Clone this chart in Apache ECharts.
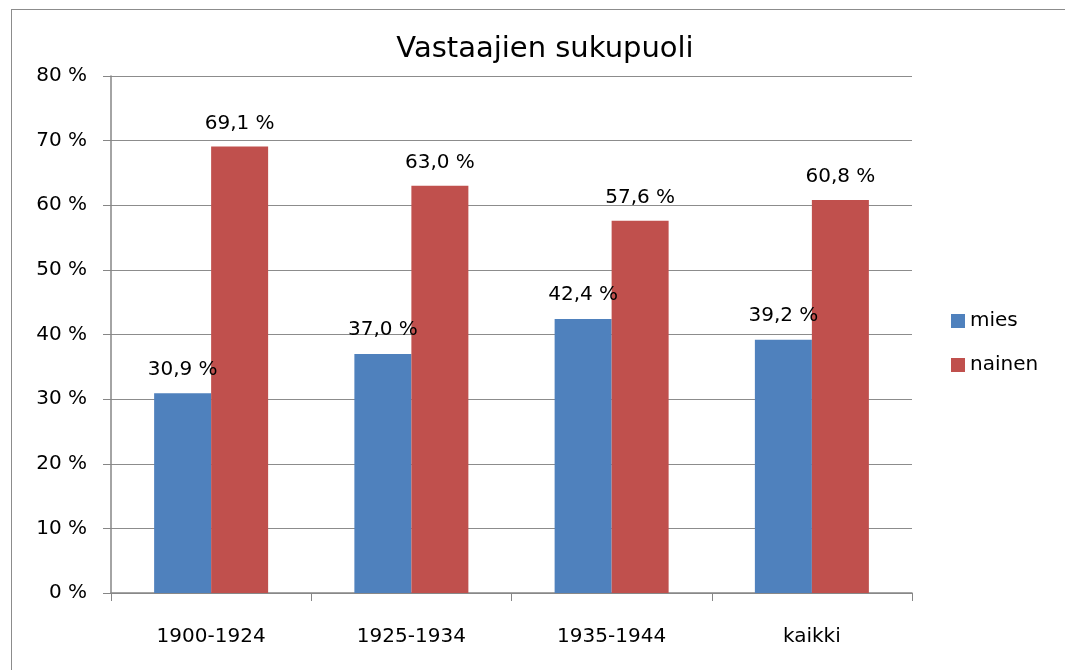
<!DOCTYPE html>
<html>
<head>
<meta charset="utf-8">
<script src="https://cdn.jsdelivr.net/npm/echarts@6/dist/echarts.min.js"></script>
<style>
  html, body { margin: 0; padding: 0; background: #fff; }
  #frame { position: absolute; left: 11px; top: 9px; width: 1100px; height: 700px; border: 1px solid #8c8c8c; box-sizing: border-box; }
  #chart { position: absolute; left: 0; top: 0; width: 1065px; height: 670px; }
</style>
</head>
<body>
<div id="frame"></div>
<div id="chart"></div>
<script>
var categories = ['1900-1924', '1925-1934', '1935-1944', 'kaikki'];
var mies = [30.9, 37.0, 42.4, 39.2];
var nainen = [69.1, 63.0, 57.6, 60.8];

var font = 'DejaVu Sans';
function pct(v) { return v.toFixed(1).replace('.', ',') + ' %'; }

var myChart = echarts.init(document.getElementById('chart'));
option = {
    animation: false,
    title: {
        text: 'Vastaajien sukupuoli',
        left: 540,
        textAlign: 'center',
        top: 30,
        textStyle: { fontFamily: font, fontSize: 29, fontWeight: 'normal', color: '#000' }
    },
    legend: {
        orient: 'vertical',
        left: 946,
        top: 306,
        itemWidth: 14,
        itemHeight: 14,
        itemGap: 24,
        icon: 'rect',
        textStyle: { fontFamily: font, fontSize: 20, color: '#000' },
        data: ['mies', 'nainen']
    },
    grid: { left: 111, right: 153, top: 76, bottom: 77 },
    xAxis: {
        type: 'category',
        data: categories,
        axisLine: { lineStyle: { color: '#868686', width: 1.5 } },
        axisTick: { show: true, length: 8, lineStyle: { color: '#868686' } },
        axisLabel: { fontFamily: font, fontSize: 20, color: '#000', margin: 34 }
    },
    yAxis: {
        type: 'value',
        min: 0,
        max: 80,
        interval: 10,
        axisLine: { show: true, lineStyle: { color: '#868686', width: 1.5 } },
        axisTick: { show: true, length: 8, lineStyle: { color: '#868686' } },
        splitLine: { lineStyle: { color: '#8c8c8c', width: 1.2 } },
        axisLabel: {
            fontFamily: font, fontSize: 20, color: '#000', margin: 24,
            formatter: function (v) { return v + ' %'; }
        }
    },
    series: [{
        name: 'mies',
        type: 'bar',
        data: mies,
        barWidth: 57,
        barGap: '0%',
        itemStyle: { color: '#4f81bd' },
        label: {
            show: true, position: 'top', distance: 14,
            fontFamily: font, fontSize: 20, color: '#000',
            formatter: function (p) { return pct(p.value); }
        }
    }, {
        name: 'nainen',
        type: 'bar',
        data: nainen,
        barWidth: 57,
        barGap: '0%',
        itemStyle: { color: '#c0504d' },
        label: {
            show: true, position: 'top', distance: 13,
            fontFamily: font, fontSize: 20, color: '#000',
            formatter: function (p) { return pct(p.value); }
        }
    }]
};
myChart.setOption(option);
</script>
</body>
</html>
